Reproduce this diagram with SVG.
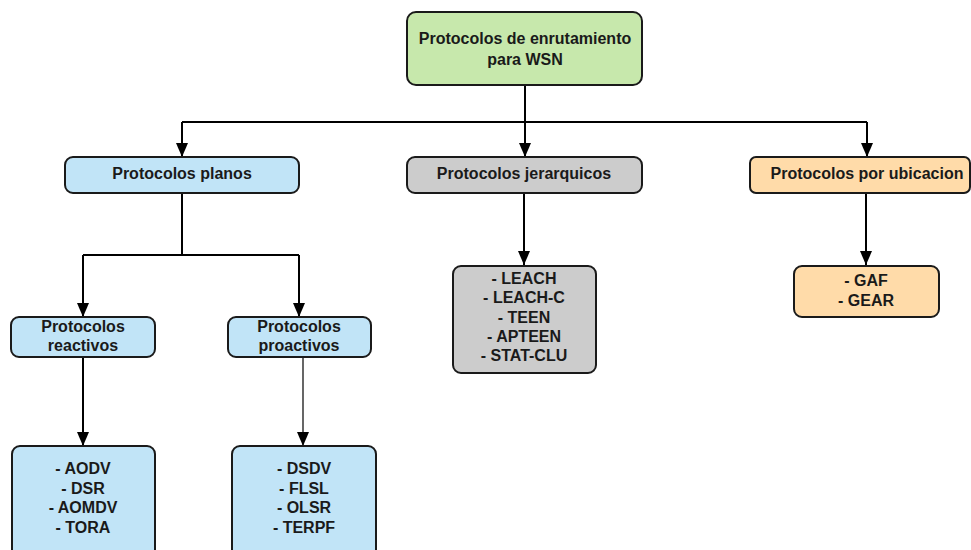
<svg xmlns="http://www.w3.org/2000/svg" width="971" height="550" viewBox="0 0 971 550">
  <defs>
    <marker id="arrow" viewBox="0 0 14 12" refX="14" refY="6" markerWidth="14" markerHeight="12" markerUnits="userSpaceOnUse" orient="auto">
      <path d="M0,0 L14,6 L0,12 Z" fill="#000"/>
    </marker>
    <style>
      .box { stroke: #1a1a1a; stroke-width: 2; }
      .green { fill: #C7E8AC; }
      .blue { fill: #C1E4F7; }
      .gray { fill: #CCCCCC; }
      .orange { fill: #FFDBA9; }
      .lbl { font-family: "Liberation Sans", Arial, sans-serif; font-weight: bold; font-size: 16px; fill: #1a1a1a; text-anchor: middle; }
      .wire { fill: none; stroke: #000; stroke-width: 2; }
      .thin { stroke-width: 1.2; }
    </style>
  </defs>
  <rect width="971" height="550" fill="#fff"/>

  <g id="connectors">
    <path class="wire" d="M525,85 V122"/>
    <path class="wire" d="M182,122 H867"/>
    <path class="wire" d="M182,122 V157" marker-end="url(#arrow)"/>
    <path class="wire" d="M525,122 V157" marker-end="url(#arrow)"/>
    <path class="wire" d="M867,122 V157" marker-end="url(#arrow)"/>
    <path class="wire" d="M182,193 V255"/>
    <path class="wire" d="M83,255 H299"/>
    <path class="wire" d="M83,255 V317" marker-end="url(#arrow)"/>
    <path class="wire" d="M299,255 V317" marker-end="url(#arrow)"/>
    <path class="wire" d="M524,193 V265" marker-end="url(#arrow)"/>
    <path class="wire" d="M866,193 V265" marker-end="url(#arrow)"/>
    <path class="wire" d="M83,357 V446" marker-end="url(#arrow)"/>
    <path class="wire thin" d="M303,357 V446" marker-end="url(#arrow)"/>
  </g>

  <g id="root">
    <rect class="box green" x="407" y="12" width="235" height="73" rx="9"/>
    <text class="lbl" x="525" y="44">Protocolos de enrutamiento</text>
    <text class="lbl" x="525" y="65">para WSN</text>
  </g>

  <g id="planos">
    <rect class="box blue" x="65" y="157" width="234" height="36" rx="8"/>
    <text class="lbl" x="182" y="179">Protocolos planos</text>
  </g>

  <g id="jerarquicos">
    <rect class="box gray" x="407" y="157" width="235" height="36" rx="8"/>
    <text class="lbl" x="524" y="179">Protocolos jerarquicos</text>
  </g>

  <g id="ubicacion">
    <rect class="box orange" x="750" y="157" width="220" height="36" rx="6"/>
    <text class="lbl" x="867" y="179">Protocolos por ubicacion</text>
  </g>

  <g id="reactivos">
    <rect class="box blue" x="11" y="317" width="144" height="40" rx="8"/>
    <text class="lbl" x="83" y="332">Protocolos</text>
    <text class="lbl" x="83" y="351">reactivos</text>
  </g>

  <g id="proactivos">
    <rect class="box blue" x="228" y="317" width="143" height="40" rx="8"/>
    <text class="lbl" x="299" y="332">Protocolos</text>
    <text class="lbl" x="299" y="351">proactivos</text>
  </g>

  <g id="jerarquicos-lista">
    <rect class="box gray" x="453" y="266" width="143" height="107" rx="8"/>
    <text class="lbl" x="524" y="284">- LEACH</text>
    <text class="lbl" x="524" y="303">- LEACH-C</text>
    <text class="lbl" x="524" y="323">- TEEN</text>
    <text class="lbl" x="524" y="342">- APTEEN</text>
    <text class="lbl" x="524" y="361">- STAT-CLU</text>
  </g>

  <g id="ubicacion-lista">
    <rect class="box orange" x="794" y="266" width="145" height="51" rx="8"/>
    <text class="lbl" x="866" y="286">- GAF</text>
    <text class="lbl" x="866" y="306">- GEAR</text>
  </g>

  <g id="reactivos-lista">
    <rect class="box blue" x="12" y="446" width="143" height="112" rx="8"/>
    <text class="lbl" x="83" y="474">- AODV</text>
    <text class="lbl" x="83" y="494">- DSR</text>
    <text class="lbl" x="83" y="513">- AOMDV</text>
    <text class="lbl" x="83" y="533">- TORA</text>
  </g>

  <g id="proactivos-lista">
    <rect class="box blue" x="232" y="446" width="144" height="112" rx="8"/>
    <text class="lbl" x="304" y="474">- DSDV</text>
    <text class="lbl" x="304" y="494">- FLSL</text>
    <text class="lbl" x="304" y="513">- OLSR</text>
    <text class="lbl" x="304" y="533">- TERPF</text>
  </g>
</svg>
